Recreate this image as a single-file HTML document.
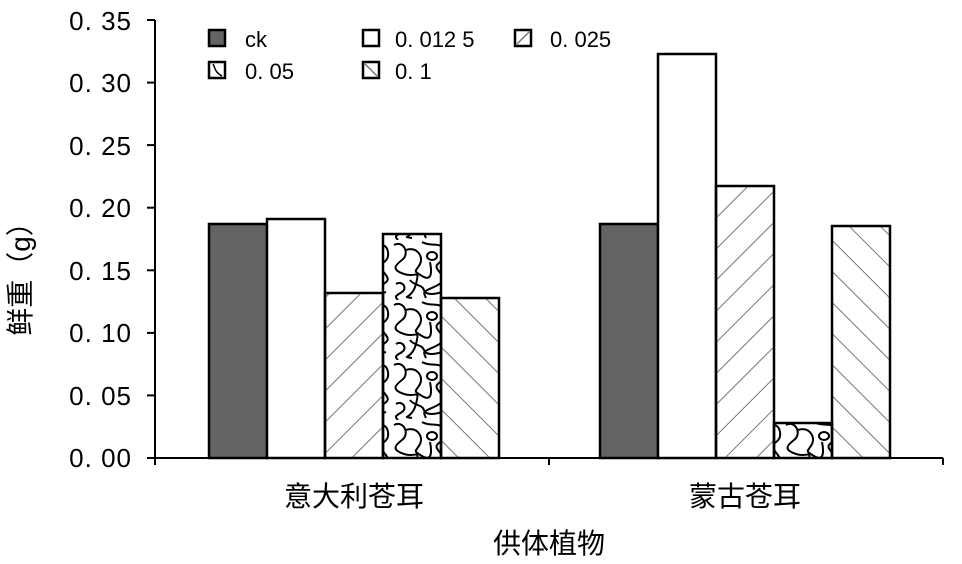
<!DOCTYPE html>
<html><head><meta charset="utf-8"><style>body{margin:0;background:#fff}svg{display:block}text{font-family:"Liberation Sans","Noto Sans CJK SC",sans-serif;fill:#000}</style></head><body>
<svg width="962" height="564" viewBox="0 0 962 564" xmlns="http://www.w3.org/2000/svg">
<defs>
<pattern id="fw" width="22" height="22" patternUnits="userSpaceOnUse" patternTransform="rotate(45)">
<line x1="0" y1="0" x2="0" y2="22" stroke="#777" stroke-width="2"/></pattern>
<pattern id="bw" width="22" height="22" patternUnits="userSpaceOnUse" patternTransform="rotate(-45)">
<line x1="0" y1="0" x2="0" y2="22" stroke="#777" stroke-width="2"/></pattern>
<pattern id="sq" width="56" height="60" patternUnits="userSpaceOnUse">
<g fill="none" stroke="#000" stroke-width="2">
<path d="M2 5 C12 0 18 14 10 20 S0 30 12 34 S28 28 24 44 S8 56 20 58"/>
<path d="M30 2 C40 8 50 0 52 12 S40 22 46 30 S56 40 44 46 S30 50 34 58"/>
<path d="M14 10 C24 6 32 16 28 24 S20 30 30 36 S40 32 38 22"/>
<path d="M4 44 C10 40 16 48 10 52 S2 56 6 60"/>
<ellipse cx="40" cy="16" rx="5" ry="4"/>
<path d="M18 40 C22 46 30 44 32 50 S44 54 50 52"/>
</g></pattern>
</defs>
<g stroke="#000" stroke-width="2">
<line x1="155" y1="20" x2="155" y2="458"/>
<line x1="155" y1="458" x2="943" y2="458"/>
<line x1="147" y1="20" x2="155" y2="20"/><line x1="147" y1="82.6" x2="155" y2="82.6"/><line x1="147" y1="145.1" x2="155" y2="145.1"/><line x1="147" y1="207.7" x2="155" y2="207.7"/><line x1="147" y1="270.3" x2="155" y2="270.3"/><line x1="147" y1="332.9" x2="155" y2="332.9"/><line x1="147" y1="395.4" x2="155" y2="395.4"/><line x1="147" y1="458" x2="155" y2="458"/>
<line x1="155" y1="458" x2="155" y2="465"/><line x1="549" y1="458" x2="549" y2="465"/><line x1="943" y1="458" x2="943" y2="465"/>
</g>
<g font-size="26" text-anchor="end" letter-spacing="1">
<text x="132" y="30">0. 35</text><text x="132" y="92">0. 30</text><text x="132" y="155">0. 25</text><text x="132" y="217">0. 20</text><text x="132" y="280">0. 15</text><text x="132" y="342">0. 10</text><text x="132" y="405">0. 05</text><text x="132" y="467">0. 00</text>
</g>
<g stroke="#000" stroke-width="2.5">
<rect x="209" y="224" width="58" height="234" fill="#646464"/>
<rect x="267" y="219" width="58" height="239" fill="#fff"/>
<rect x="325" y="293" width="58" height="165" fill="url(#fw)"/>
<rect x="441" y="298" width="58" height="160" fill="url(#bw)"/>
<rect x="383" y="234" width="58" height="224" fill="url(#sq)"/>
<rect x="600" y="224" width="58" height="234" fill="#646464"/>
<rect x="658" y="54" width="58" height="404" fill="#fff"/>
<rect x="716" y="186" width="58" height="272" fill="url(#fw)"/>
<rect x="774" y="423" width="58" height="35" fill="url(#sq)"/>
<rect x="832" y="226" width="58" height="232" fill="url(#bw)"/>
</g>
<g stroke="#000" stroke-width="2.5">
<rect x="209" y="30" width="16" height="16" fill="#646464"/>
<rect x="363" y="30" width="16" height="16" fill="#fff"/>
<rect x="515" y="30" width="16" height="16" fill="#fff"/>
<rect x="209" y="62" width="16" height="16" fill="#fff"/>
<rect x="363" y="62" width="16" height="16" fill="#fff"/>
</g>
<g stroke="#777" stroke-width="1.5"><line x1="517" y1="44" x2="529" y2="32"/><line x1="365" y1="64" x2="377" y2="76"/></g>
<path d="M213 64 C216 70 215 72 222 76" stroke="#000" stroke-width="1.5" fill="none"/>
<g font-size="22">
<text x="245" y="47">ck</text><text x="395" y="47">0. 012 5</text><text x="550" y="47">0. 025</text>
<text x="245" y="79">0. 05</text><text x="395" y="79">0. 1</text>
</g>
<g font-size="28" text-anchor="middle">
<text x="354" y="506">意大利苍耳</text><text x="745" y="506">蒙古苍耳</text><text x="549" y="553">供体植物</text>
</g>
<text font-size="28" text-anchor="middle" transform="translate(30,272) rotate(-90)">鲜重（g）</text>
</svg>
</body></html>
